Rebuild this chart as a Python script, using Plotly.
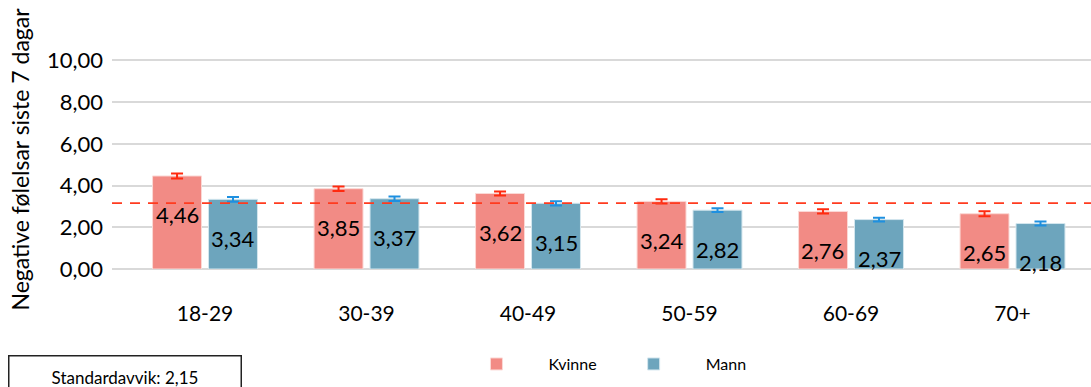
import plotly.graph_objects as go

categories = ["18-29", "30-39", "40-49", "50-59", "60-69", "70+"]
kvinne = [4.46, 3.85, 3.62, 3.24, 2.76, 2.65]
mann = [3.34, 3.37, 3.15, 2.82, 2.37, 2.18]
kvinne_err = [0.12, 0.11, 0.10, 0.10, 0.10, 0.12]
mann_err = [0.11, 0.11, 0.10, 0.09, 0.09, 0.10]
mean_line = 3.16
y_ticks = [0, 2, 4, 6, 8, 10]
std_text = "Standardavvik: 2,15"
y_title = "Negative følelsar siste 7 dagar"

FONT = "Lato"
fig = go.Figure()
fig.add_trace(go.Bar(
    name="Kvinne", x=categories, y=kvinne,
    marker=dict(color="#F28B85", line=dict(color="#FBD9D6", width=1)),
    error_y=dict(type="data", array=kvinne_err, color="#FF2A0F", thickness=2, width=6),
))
fig.add_trace(go.Bar(
    name="Mann", x=categories, y=mann,
    marker=dict(color="#6DA5BD", line=dict(color="#D3E6EE", width=1)),
    error_y=dict(type="data", array=mann_err, color="#1E90E0", thickness=2, width=6),
))

slot = 0.347
annotations = []
for i, (k, m) in enumerate(zip(kvinne, mann)):
    for val, off in ((k, -slot / 2), (m, slot / 2)):
        annotations.append(dict(
            x=i + off, y=val, xref="x", yref="y",
            text=f"{val:.2f}".replace(".", ","), showarrow=False,
            yshift=-39, yanchor="middle", xanchor="center",
            font=dict(family=FONT, size=22, color="black"),
        ))

annotations.append(dict(
    xref="paper", yref="paper", x=-0.106, y=-0.393, xanchor="left", yanchor="top",
    text=std_text, showarrow=False, width=229, height=40, align="center", valign="middle",
    bordercolor="#222222", borderwidth=1.5, borderpad=1, bgcolor="white",
    font=dict(family=FONT, size=17, color="black"),
))

fig.update_layout(
    width=1091, height=387,
    margin=dict(l=112, r=0, t=50, b=118),
    paper_bgcolor="white", plot_bgcolor="white",
    barmode="group", bargap=0.307, bargroupgap=0.125,
    separators=",.",
    font=dict(family=FONT, color="black"),
    xaxis=dict(range=[-0.576, 5.486], showgrid=False, showline=False, zeroline=False,
               tickfont=dict(size=21, family=FONT), ticklabelstandoff=30, ticks="",
               automargin=False),
    yaxis=dict(range=[0, 10.5], tickvals=y_ticks, tickformat=".2f",
               showgrid=True, gridcolor="#D9D9D9", gridwidth=2,
               zeroline=True, zerolinecolor="#D9D9D9", zerolinewidth=2,
               tickfont=dict(size=22, family=FONT), ticklabelstandoff=8,
               automargin=False,
               title=dict(text=y_title, font=dict(size=23, family=FONT), standoff=10)),
    legend=dict(orientation="h", x=0.3396, y=-0.434, xanchor="left", yanchor="middle",
                font=dict(size=16, family=FONT), itemwidth=94, traceorder="normal"),
    shapes=[dict(type="line", xref="paper", yref="y", x0=0, x1=1, y0=mean_line, y1=mean_line,
                 line=dict(color="#FF3B1F", width=1.8, dash="10px,8px"), layer="above")],
    annotations=annotations,
)

fig.write_html("out.html", config={"displayModeBar": False},
               post_script="document.body.style.margin='0';window.dispatchEvent(new Event('resize'));")
